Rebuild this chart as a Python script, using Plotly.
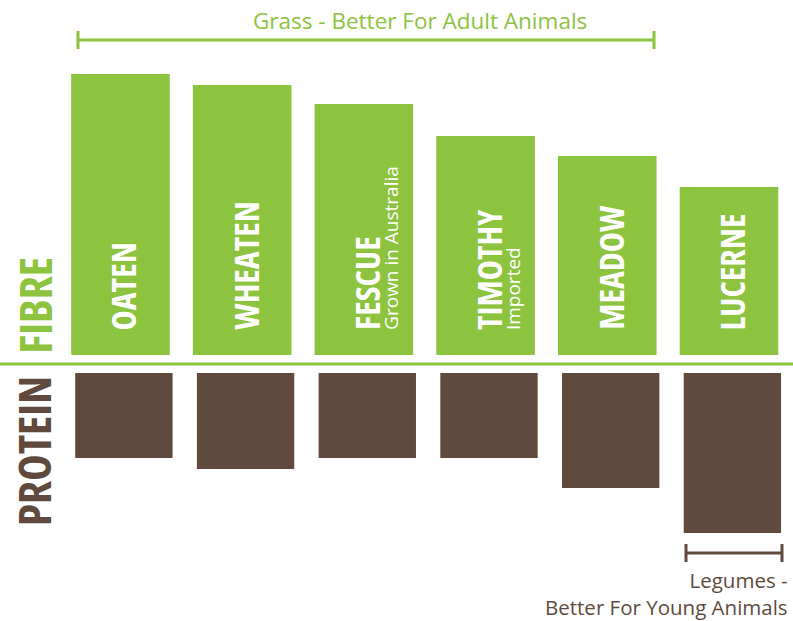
import plotly.graph_objects as go

# ---- data ----
categories = ["OATEN", "WHEATEN", "FESCUE", "TIMOTHY", "MEADOW", "LUCERNE"]
subtitles = ["", "", "Grown in Australia", "Imported", "", ""]
fibre = [281, 270, 251, 219, 199, 168]      # relative fibre level
protein = [85, 96, 85, 85, 115, 160]        # relative protein level
title_top = "Grass - Better For Adult Animals"
title_bottom = "Legumes -<br>Better For Young Animals"

GREEN = "#8CC33F"
BROWN = "#604A3E"
W, H = 793, 621
LINE_PX = 364  # pixel row of the divider

def px(x):
    return x / W

def py(y):
    return 1 - y / H

def cond(t):
    return '<span style="font-stretch:condensed">' + t + '</span>'

fig = go.Figure()
fig.add_trace(go.Bar(
    x=categories, y=fibre, base=9, width=0.81, offset=-0.405,
    marker=dict(color=GREEN, line=dict(width=0)), hoverinfo="skip"))
fig.add_trace(go.Bar(
    x=categories, y=[-p for p in protein], base=-9, width=0.80, offset=-0.372,
    marker=dict(color=BROWN, line=dict(width=0)), hoverinfo="skip"))

shapes = [
    # divider line
    dict(type="line", xref="paper", yref="y", x0=0, x1=1, y0=0, y1=0,
         line=dict(color=GREEN, width=3)),
    # grass bracket
    dict(type="line", xref="paper", yref="paper", x0=px(77), x1=px(654), y0=py(40), y1=py(40),
         line=dict(color=GREEN, width=3)),
    dict(type="line", xref="paper", yref="paper", x0=px(78), x1=px(78), y0=py(31), y1=py(49),
         line=dict(color=GREEN, width=3)),
    dict(type="line", xref="paper", yref="paper", x0=px(654), x1=px(654), y0=py(31), y1=py(49),
         line=dict(color=GREEN, width=3)),
    # legumes bracket
    dict(type="line", xref="paper", yref="paper", x0=px(685), x1=px(783), y0=py(553), y1=py(553),
         line=dict(color=BROWN, width=3)),
    dict(type="line", xref="paper", yref="paper", x0=px(686), x1=px(686), y0=py(544), y1=py(562),
         line=dict(color=BROWN, width=3)),
    dict(type="line", xref="paper", yref="paper", x0=px(782), x1=px(782), y0=py(544), y1=py(562),
         line=dict(color=BROWN, width=3)),
]

BOLD = "Open Sans, Roboto, sans-serif"
REG = "Open Sans, Lato, sans-serif"

annotations = []
for i, (cat, sub) in enumerate(zip(categories, subtitles)):
    annotations.append(dict(
        x=cat, y=LINE_PX - 332, xref="x", yref="y", text=cond(cat), showarrow=False,
        textangle=-90, xanchor="center", yanchor="bottom", xshift=3,
        font=dict(family=BOLD, size=34, color="white", weight="bold")))
    if sub:
        annotations.append(dict(
            x=cat, y=LINE_PX - 332, xref="x", yref="y", text=sub, showarrow=False,
            textangle=-90, xanchor="center", yanchor="bottom", xshift=27,
            font=dict(family=REG, size=19, color="white")))

annotations += [
    dict(x=px(420), y=py(20), xref="paper", yref="paper", text=title_top,
         showarrow=False, xanchor="center", yanchor="middle",
         font=dict(family=REG, size=22.5, color=GREEN, weight=500)),
    dict(x=px(790), y=py(593), xref="paper", yref="paper", text=title_bottom,
         showarrow=False, xanchor="right", yanchor="middle", align="right",
         font=dict(family=REG, size=20.5, color=BROWN, weight=500)),
    dict(x=px(34), y=py(356), xref="paper", yref="paper", text=cond("FIBRE"),
         showarrow=False, textangle=-90, xanchor="center", yanchor="bottom",
         font=dict(family=BOLD, size=45, color=GREEN, weight="bold")),
    dict(x=px(33), y=py(374), xref="paper", yref="paper", text=cond("PROTEIN"),
         showarrow=False, textangle=-90, xanchor="center", yanchor="top",
         font=dict(family=BOLD, size=45, color=BROWN, weight="bold")),
]

fig.update_layout(
    width=W, height=H, margin=dict(l=0, r=0, t=0, b=0),
    paper_bgcolor="white", plot_bgcolor="white",
    barmode="overlay", showlegend=False,
    xaxis=dict(visible=False, range=[-0.99, 5.526], fixedrange=True),
    yaxis=dict(visible=False, range=[LINE_PX - H, LINE_PX], fixedrange=True),
    shapes=shapes, annotations=annotations,
)

fig.write_html("out.html", config={"displayModeBar": False})
